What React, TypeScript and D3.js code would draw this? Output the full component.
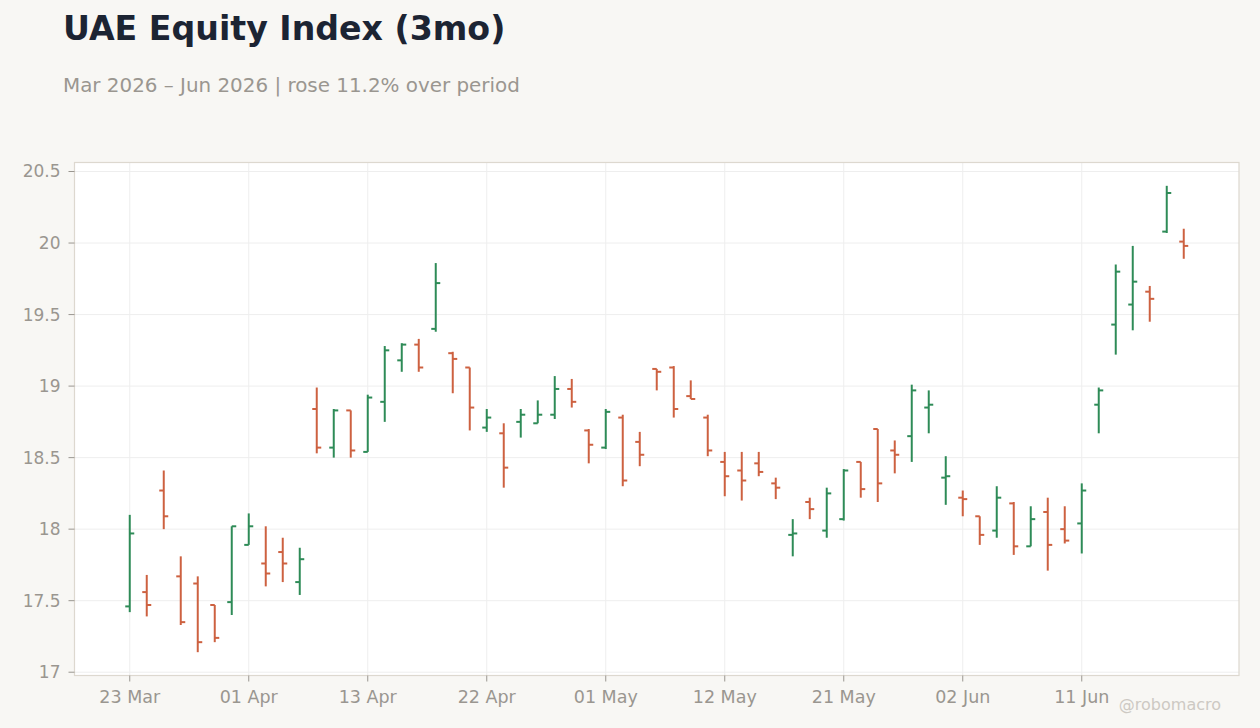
import * as React from 'react'
import * as d3 from 'd3'

// trading days (US calendar: Good Friday, Memorial Day, Juneteenth skipped)
const dates = [
  '2026-03-23', '2026-03-24', '2026-03-25', '2026-03-26', '2026-03-27', '2026-03-30', '2026-03-31',
  '2026-04-01', '2026-04-02', '2026-04-06', '2026-04-07', '2026-04-08', '2026-04-09', '2026-04-10',
  '2026-04-13', '2026-04-14', '2026-04-15', '2026-04-16', '2026-04-17', '2026-04-20', '2026-04-21',
  '2026-04-22', '2026-04-23', '2026-04-24', '2026-04-27', '2026-04-28', '2026-04-29', '2026-04-30',
  '2026-05-01', '2026-05-04', '2026-05-05', '2026-05-06', '2026-05-07', '2026-05-08', '2026-05-11',
  '2026-05-12', '2026-05-13', '2026-05-14', '2026-05-15', '2026-05-18', '2026-05-19', '2026-05-20',
  '2026-05-21', '2026-05-22', '2026-05-26', '2026-05-27', '2026-05-28', '2026-05-29', '2026-06-01',
  '2026-06-02', '2026-06-03', '2026-06-04', '2026-06-05', '2026-06-08', '2026-06-09', '2026-06-10',
  '2026-06-11', '2026-06-12', '2026-06-15', '2026-06-16', '2026-06-17', '2026-06-18', '2026-06-22',
]

const open = [
  17.46, 17.56, 18.27, 17.67, 17.62, 17.47, 17.49, 17.89, 17.76, 17.84, 17.63,
  18.84, 18.57, 18.83, 18.54, 18.89, 19.18, 19.29, 19.40, 19.23, 19.13, 18.71,
  18.67, 18.75, 18.74, 18.80, 18.98, 18.69, 18.57, 18.78, 18.61, 19.12, 19.13,
  18.93, 18.78, 18.47, 18.41, 18.46, 18.32, 17.96, 18.19, 17.99, 18.07, 18.47,
  18.70, 18.55, 18.65, 18.85, 18.36, 18.22, 18.09, 17.99, 18.18, 17.88, 18.12,
  18.00, 18.04, 18.87, 19.43, 19.57, 19.66, 20.08, 20.01,
]
const high = [
  18.10, 17.68, 18.41, 17.81, 17.67, 17.47, 18.02, 18.11, 18.02, 17.94, 17.87,
  18.99, 18.84, 18.83, 18.94, 19.28, 19.30, 19.33, 19.86, 19.24, 19.13, 18.84,
  18.74, 18.84, 18.90, 19.07, 19.05, 18.70, 18.84, 18.80, 18.68, 19.12, 19.14,
  19.04, 18.80, 18.54, 18.54, 18.54, 18.36, 18.07, 18.22, 18.29, 18.42, 18.47,
  18.70, 18.62, 19.01, 18.97, 18.51, 18.27, 18.09, 18.30, 18.19, 18.16, 18.22,
  18.16, 18.32, 18.99, 19.85, 19.98, 19.70, 20.40, 20.10,
]
const low = [
  17.42, 17.39, 18.00, 17.33, 17.14, 17.21, 17.40, 17.89, 17.60, 17.63, 17.54,
  18.53, 18.50, 18.50, 18.54, 18.75, 19.10, 19.10, 19.38, 18.95, 18.69, 18.68,
  18.29, 18.64, 18.74, 18.77, 18.85, 18.46, 18.56, 18.30, 18.44, 18.97, 18.78,
  18.91, 18.51, 18.23, 18.20, 18.37, 18.21, 17.81, 18.07, 17.94, 18.06, 18.22,
  18.19, 18.39, 18.47, 18.67, 18.17, 18.09, 17.89, 17.94, 17.82, 17.88, 17.71,
  17.90, 17.83, 18.67, 19.22, 19.39, 19.45, 20.07, 19.89,
]
const close = [
  17.97, 17.47, 18.09, 17.35, 17.21, 17.24, 18.02, 18.02, 17.69, 17.76, 17.79,
  18.57, 18.83, 18.55, 18.92, 19.25, 19.29, 19.13, 19.72, 19.19, 18.85, 18.78,
  18.43, 18.80, 18.80, 18.98, 18.89, 18.59, 18.82, 18.34, 18.52, 19.10, 18.84,
  18.91, 18.55, 18.37, 18.34, 18.40, 18.29, 17.97, 18.14, 18.25, 18.41, 18.28,
  18.32, 18.52, 18.97, 18.87, 18.37, 18.21, 17.96, 18.22, 17.88, 18.07, 17.89,
  17.92, 18.27, 18.97, 19.80, 19.73, 19.61, 20.35, 19.98,
]

const yTicks = [17, 17.5, 18, 18.5, 19, 19.5, 20, 20.5]
const tickEvery = 7

const W = 1260
const H = 728
const margin = { top: 162.5, right: 21, bottom: 52.5, left: 74.5 }
const UP = '#2e8b57'
const DOWN = '#cd6140'
const FONT = '"DejaVu Sans", Verdana, sans-serif'

export default function App() {
  const parse = d3.timeParse('%Y-%m-%d')
  const fmt = d3.timeFormat('%d %b')
  const n = dates.length
  const innerW = W - margin.left - margin.right
  const innerH = H - margin.top - margin.bottom

  // index-based x so that non-trading days leave no gaps
  const x = d3.scaleLinear().domain([-3.25, n - 1 + 3.25]).range([0, innerW])
  const lo = d3.min(low) as number
  const hi = d3.max(high) as number
  const pad = (hi - lo) * 0.05
  const y = d3.scaleLinear().domain([lo - pad, hi + pad]).range([innerH, 0])

  const xTicks = d3.range(0, n, tickEvery)
  const change = (close[n - 1] / close[0] - 1) * 100
  const first = parse(dates[0]) as Date
  const last = parse(dates[n - 1]) as Date
  const mon = d3.timeFormat('%b %Y')

  return (
    <div style={{ position: 'fixed', left: 0, top: 0, width: W, height: H, background: '#f8f7f4' }}>
      <svg width={W} height={H} style={{ display: 'block', fontFamily: FONT }}>
        <text x={63} y={40} fontSize={33.2} fontWeight={700} fill="#1c2433">UAE Equity Index (3mo)</text>
        <text x={63} y={92} fontSize={19.9} fill="#9a9690">
          {`${mon(first)} – ${mon(last)} | ${change >= 0 ? 'rose' : 'fell'} ${Math.abs(change).toFixed(1)}% over period`}
        </text>

        <g transform={`translate(${margin.left},${margin.top})`}>
          <rect x={0} y={0} width={innerW} height={innerH} fill="#ffffff" />

          {/* grid */}
          {yTicks.map(t => (
            <line key={'gy' + t} x1={0} x2={innerW} y1={y(t)} y2={y(t)} stroke="#eeeeee" strokeWidth={1} />
          ))}
          {xTicks.map(i => (
            <line key={'gx' + i} x1={x(i)} x2={x(i)} y1={0} y2={innerH} stroke="#eeeeee" strokeWidth={1} />
          ))}

          {/* OHLC bars */}
          {dates.map((d, i) => {
            const c = close[i] >= open[i] ? UP : DOWN
            const cx = x(i)
            return (
              <g key={d} stroke={c} strokeWidth={2}>
                <line x1={cx} x2={cx} y1={y(high[i])} y2={y(low[i])} />
                <line x1={cx - 4.5} x2={cx} y1={y(open[i])} y2={y(open[i])} />
                <line x1={cx} x2={cx + 4.5} y1={y(close[i])} y2={y(close[i])} />
              </g>
            )
          })}

          <rect x={0} y={0} width={innerW} height={innerH} fill="none" stroke="#ddd8cf" strokeWidth={1.2} />

          {/* y axis */}
          {yTicks.map(t => (
            <g key={'ty' + t} transform={`translate(0,${y(t)})`}>
              <line x1={-6} x2={0} stroke="#9a9690" strokeWidth={1} />
              <text x={-14} dy="0.35em" textAnchor="end" fontSize={17} fill="#9a9690">{String(t)}</text>
            </g>
          ))}

          {/* x axis */}
          {xTicks.map(i => (
            <g key={'tx' + i} transform={`translate(${x(i)},${innerH})`}>
              <line y1={0} y2={6} stroke="#9a9690" strokeWidth={1} />
              <text y={27} textAnchor="middle" fontSize={17.5} fill="#9a9690">{fmt(parse(dates[i]) as Date)}</text>
            </g>
          ))}
        </g>

        <text x={1221} y={710} textAnchor="end" fontSize={16} fill="#cdc9c3">@robomacro</text>
      </svg>
    </div>
  )
}
